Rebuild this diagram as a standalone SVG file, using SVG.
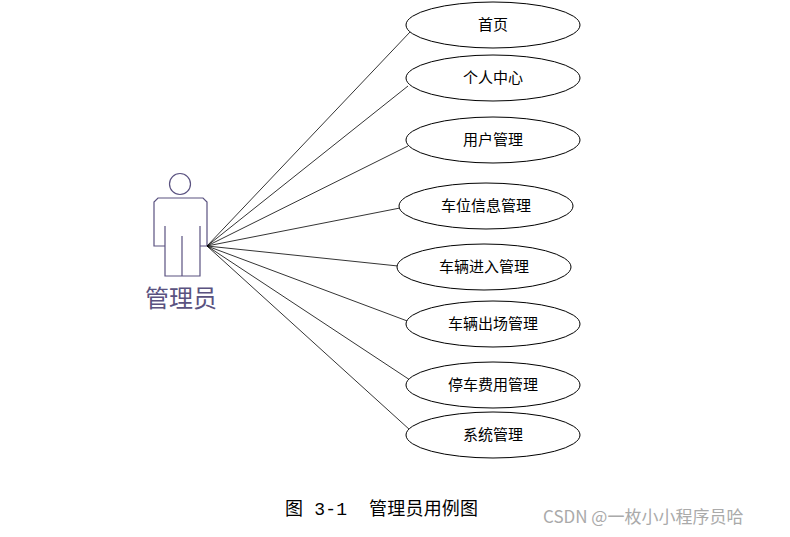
<svg xmlns="http://www.w3.org/2000/svg" width="790" height="537" viewBox="0 0 790 537">
<style>
.e{fill:#fff;stroke:#000;stroke-width:1}
.t{font-family:"Noto Sans CJK SC",sans-serif;font-size:15px;text-anchor:middle;fill:#000}
.a{fill:none;stroke:#5a5280;stroke-width:1.2}
line{stroke:#000;stroke-width:0.8}
</style>
<rect width="790" height="537" fill="#fff"/>
<g id="actor">
<circle class="a" cx="180" cy="184" r="10.5"/>
<path class="a" d="M158,198 H203 L207,202 V246 H200 V276 H165 V246 H154 V202 Z M165,226 V246 M200,226 V246 M182,236 V276"/>
<text x="181" y="307" style="font-family:'Noto Sans CJK SC',sans-serif;font-size:24px;fill:#5a5280;text-anchor:middle">管理员</text>
</g>
<g id="connectors">
<line x1="207" y1="246" x2="410" y2="32"/>
<line x1="207" y1="246" x2="408" y2="86"/>
<line x1="207" y1="246" x2="408" y2="146"/>
<line x1="207" y1="246" x2="400" y2="208"/>
<line x1="207" y1="246" x2="398" y2="266"/>
<line x1="207" y1="246" x2="410" y2="322"/>
<line x1="207" y1="246" x2="410" y2="380"/>
<line x1="207" y1="246" x2="410" y2="430"/>
</g>
<g id="n1"><ellipse class="e" cx="493" cy="25" rx="87" ry="23"/><text class="t" x="493" y="30">首页</text></g>
<g id="n2"><ellipse class="e" cx="493" cy="78" rx="87" ry="23"/><text class="t" x="493" y="83">个人中心</text></g>
<g id="n3"><ellipse class="e" cx="493" cy="140" rx="87" ry="23"/><text class="t" x="493" y="145">用户管理</text></g>
<g id="n4"><ellipse class="e" cx="486" cy="206" rx="87" ry="23"/><text class="t" x="486" y="211">车位信息管理</text></g>
<g id="n5"><ellipse class="e" cx="484" cy="267" rx="87" ry="23"/><text class="t" x="484" y="272">车辆进入管理</text></g>
<g id="n6"><ellipse class="e" cx="493" cy="324" rx="87" ry="23"/><text class="t" x="493" y="329">车辆出场管理</text></g>
<g id="n7"><ellipse class="e" cx="493" cy="385" rx="87" ry="23"/><text class="t" x="493" y="390">停车费用管理</text></g>
<g id="n8"><ellipse class="e" cx="493" cy="435" rx="87" ry="23"/><text class="t" x="493" y="440">系统管理</text></g>
<text x="285" y="515" xml:space="preserve" textLength="193" lengthAdjust="spacing" style="font-family:'Liberation Mono','Noto Sans CJK SC',monospace;font-size:18px">图 3-1  管理员用例图</text>
<text x="543" y="523" style="font-family:'Noto Sans CJK SC',sans-serif;font-size:17px;fill:#aaa">CSDN @一枚小小程序员哈</text>
</svg>
